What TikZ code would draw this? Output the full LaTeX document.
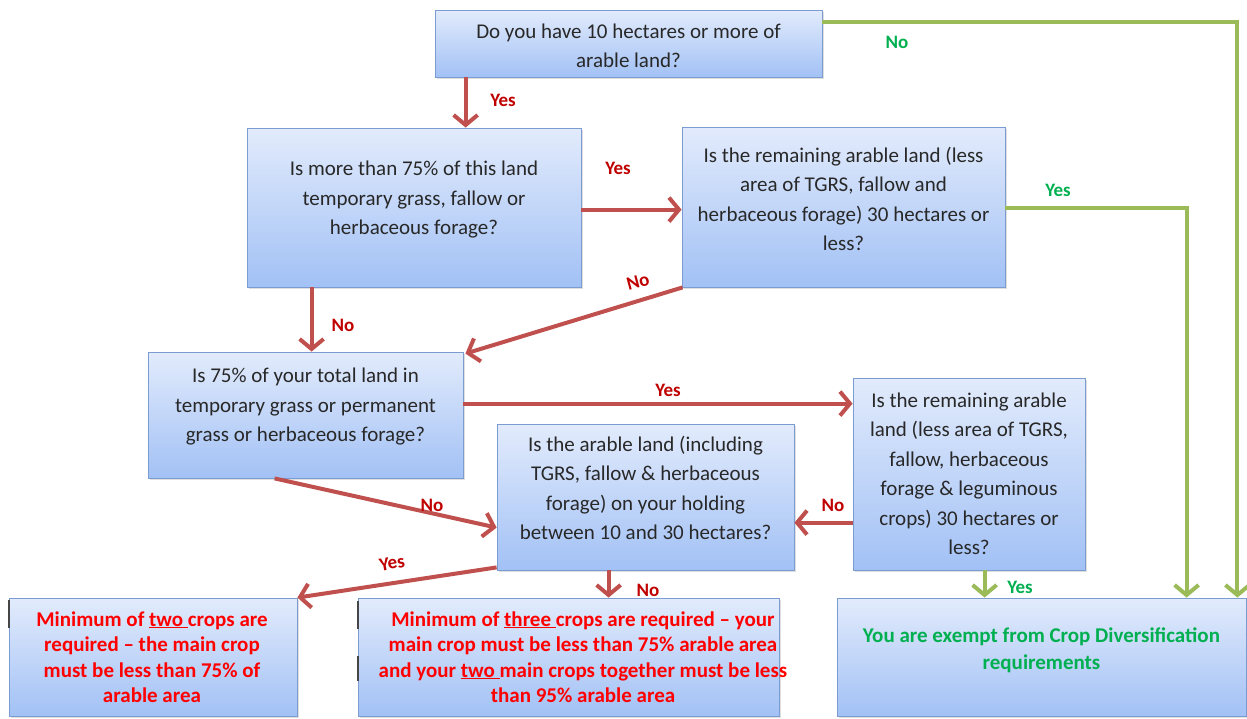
\documentclass[tikz,border=0pt]{standalone}
\usepackage{fontspec}
\setmainfont{Carlito}
\usetikzlibrary{arrows.meta,shadows}
\definecolor{boxtop}{RGB}{226,235,252}
\definecolor{boxbot}{RGB}{162,193,245}
\definecolor{boxline}{RGB}{122,156,208}
\definecolor{qgray}{RGB}{40,40,40}
\definecolor{arrred}{RGB}{192,80,77}
\definecolor{arrgreen}{RGB}{155,187,89}
\definecolor{labred}{RGB}{192,0,0}
\definecolor{labgreen}{RGB}{0,176,80}
\definecolor{outred}{RGB}{255,0,0}
\definecolor{marks}{RGB}{70,70,70}
\begin{document}
\begin{tikzpicture}[x=1pt,y=-1pt,
  box/.style={draw=boxline, line width=0.8pt, top color=boxtop, bottom color=boxbot,
    rectangle, inner sep=0pt,
    drop shadow={shadow xshift=1.5pt, shadow yshift=-1.5pt, opacity=0.25}},
  qtext/.style={align=center, text=qgray, inner sep=0pt, font=\fontsize{21}{29.5}\selectfont},
  rtext/.style={align=center, text=outred, inner sep=0pt, font=\bfseries\fontsize{21}{25.5}\selectfont},
  gtext/.style={align=center, text=labgreen, inner sep=0pt, font=\bfseries\fontsize{21}{27}\selectfont},
  redarrow/.style={draw=arrred, line width=4pt, -{Straight Barb[length=10pt,width=24pt]}},
  greenarrow/.style={draw=arrgreen, line width=4pt, -{Straight Barb[length=10pt,width=24pt]}},
  rlab/.style={text=labred, inner sep=0pt, font=\bfseries\fontsize{19}{22}\selectfont},
  glab/.style={text=labgreen, inner sep=0pt, font=\bfseries\fontsize{19}{22}\selectfont},
  edgemark/.style={draw=marks, line width=2pt}
]
\useasboundingbox (0,0) rectangle (1247,718);

% boxes
\node[box, minimum width=387pt, minimum height=67pt] (A) at (628.5,43.5) {};
\node[box, minimum width=334pt, minimum height=159pt] (B) at (414,207.5) {};
\node[box, minimum width=323pt, minimum height=160pt] (C) at (843.5,207) {};
\node[box, minimum width=315pt, minimum height=126pt] (D) at (305.5,415) {};
\node[box, minimum width=232pt, minimum height=192pt] (E) at (969,474) {};
\node[box, minimum width=297pt, minimum height=146pt] (F) at (645.5,497) {};
\node[box, minimum width=288pt, minimum height=118pt] (G) at (153,657) {};
\node[box, minimum width=421pt, minimum height=118pt] (H) at (568.5,657) {};
\node[box, minimum width=409pt, minimum height=118pt] (I) at (1041.5,657) {};

% texts
\node[qtext] (At) at (628.5,46) {Do you have 10 hectares or more of\\arable land?};
\node[qtext] (Bt) at (414,200) {Is more than 75\% of this land\\temporary grass, fallow or\\herbaceous forage?};
\node[qtext] (Ct) at (843.5,199) {Is the remaining arable land (less\\area of TGRS, fallow and\\herbaceous forage) 30 hectares or\\less?};
\node[qtext] (Dt) at (305.5,407) {Is 75\% of your total land in\\temporary grass or permanent\\grass or herbaceous forage?};
\node[qtext] (Et) at (969,474) {Is the remaining arable\\land (less area of TGRS,\\fallow, herbaceous\\forage \& leguminous\\crops) 30 hectares or\\less?};
\node[qtext] (Ft) at (645.5,488) {Is the arable land (including\\TGRS, fallow \& herbaceous\\forage) on your holding\\between 10 and 30 hectares?};
\node[rtext] (Gt) at (152,657) {Minimum of \underline{two\ }crops are\\required -- the main crop\\must be less than 75\% of\\arable area};
\node[rtext] (Ht) at (583,657) {Minimum of \underline{three\ }crops are required -- your\\main crop must be less than 75\% arable area\\and your \underline{two\ }main crops together must be less\\than 95\% arable area};
\node[gtext] (It) at (1041.5,650) {You are exempt from Crop Diversification\\requirements};

% small dark marks at left edges of bottom boxes
\draw[edgemark] ([yshift=-2pt]G.north west) -- ([yshift=-30pt]G.north west);
\draw[edgemark] ([yshift=-3pt]H.north west) -- ([yshift=-31pt]H.north west);
\draw[edgemark] ([yshift=-58pt]H.north west) -- ([yshift=-83pt]H.north west);

% connectors
\draw[redarrow] ([xshift=31pt]A.south west) -- ([xshift=219pt]B.north west);
\draw[greenarrow] ([yshift=-12pt]A.north east) -| ([xshift=-9pt]I.north east);
\draw[redarrow] ([yshift=-82pt]B.north east) -- ([yshift=-82pt]B.north east -| C.west);
\draw[greenarrow] ([yshift=-81pt]C.north east) -| ([xshift=350pt]I.north west);
\draw[redarrow] ([xshift=1pt]C.south west) -- ([xshift=2pt,yshift=-2pt]D.north east);
\draw[redarrow] ([xshift=65pt]B.south west) -- ([xshift=65pt]B.south west |- D.north);
\draw[redarrow] ([yshift=-52pt]D.north east) -- ([yshift=-52pt]D.north east -| E.west);
\draw[redarrow] ([xshift=127pt]D.south west) -- ([yshift=-104pt]F.north west);
\draw[redarrow] ([yshift=-145pt]E.north west) -- ([yshift=-145pt]E.north west -| F.east);
\draw[redarrow] ([yshift=3pt]F.south west) -- (G.north east);
\draw[redarrow] ([xshift=112pt]F.south west) -- ([xshift=112pt]F.south west |- H.north);
\draw[greenarrow] ([xshift=132pt]E.south west) -- ([xshift=132pt]E.south west |- I.north);

% labels
\node[rlab] (l1) at (503,100) {Yes};
\node[glab] (l2) at (897,42) {No};
\node[rlab] (l3) at (618,168) {Yes};
\node[glab] (l4) at (1058,190) {Yes};
\node[rlab, rotate=15] (l5) at (638,282) {No};
\node[rlab] (l6) at (343,325) {No};
\node[rlab] (l7) at (668,390) {Yes};
\node[rlab] (l8) at (432,505) {No};
\node[rlab] (l9) at (833,505) {No};
\node[rlab, rotate=10] (l10) at (392,563) {Yes};
\node[rlab] (l11) at (648,590) {No};
\node[glab] (l12) at (1020,587) {Yes};
\end{tikzpicture}
\end{document}
